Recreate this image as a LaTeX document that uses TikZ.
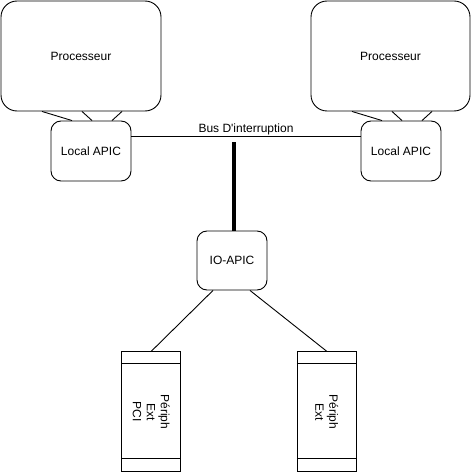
\documentclass[tikz,border=0pt]{standalone}
\usepackage{fontspec}
\setmainfont{Liberation Sans}
\begin{document}
\begin{tikzpicture}[x=1pt,y=-1pt,
  every node/.style={font=\fontsize{12}{14}\selectfont},
  proc/.style={draw,line width=0.9pt,rounded corners=16pt,minimum width=160pt,minimum height=110pt,inner sep=0pt},
  apic/.style={draw,line width=0.9pt,rounded corners=10pt,minimum width=80pt,minimum height=60pt,inner sep=0pt},
  ioapic/.style={draw,line width=0.9pt,rounded corners=10pt,minimum width=70pt,minimum height=59pt,inner sep=0pt},
  periph/.style={draw,line width=0.9pt,minimum width=59pt,minimum height=120pt,inner sep=0pt,align=center},
  wire/.style={line width=0.9pt},
  thickwire/.style={line width=4pt}]
\useasboundingbox (0,0) rectangle (473,476);
\node[proc] (p1) at (81,56) {Processeur};
\node[proc,minimum width=159pt] (p2) at (390.5,56) {Processeur};
\node[apic] (la1) at (91,151) {Local APIC};
\node[apic] (la2) at (401,151) {Local APIC};
\node[ioapic] (io) at (232,260.5) {IO-APIC};
\node[periph] (pe1) at (151.3,411.7) {};
\node[periph] (pe2) at (326.7,411.7) {};
\node[rotate=-90,align=center,inner sep=0pt] (t1) at (pe1.center) {Périph\\Ext\\PCI};
\node[rotate=-90,align=center,inner sep=0pt] (t2) at (pe2.center) {Périph\\Ext};
% inner bars of peripherals
\draw[wire] ([yshift=-12.5pt]pe1.north west) -- ([yshift=-12.5pt]pe1.north east);
\draw[wire] ([yshift=13.5pt]pe1.south west) -- ([yshift=13.5pt]pe1.south east);
\draw[wire] ([yshift=-12.5pt]pe2.north west) -- ([yshift=-12.5pt]pe2.north east);
\draw[wire] ([yshift=13.5pt]pe2.south west) -- ([yshift=13.5pt]pe2.south east);
% processor to local APIC links
\draw[wire] ([xshift=-39pt]p1.south) -- ([xshift=-19pt]la1.north);
\draw[wire] ([xshift=1pt]p1.south) -- ([xshift=1pt]la1.north);
\draw[wire] ([xshift=41pt]p1.south) -- ([xshift=21pt]la1.north);
\draw[wire] ([xshift=-38.5pt]p2.south) -- ([xshift=-19pt]la2.north);
\draw[wire] ([xshift=1.5pt]p2.south) -- ([xshift=1pt]la2.north);
\draw[wire] ([xshift=41.5pt]p2.south) -- ([xshift=21pt]la2.north);
% interrupt bus
\draw[wire] ([yshift=15pt]la1.east) -- node[above,inner sep=0.5pt] (bus) {Bus D\textquotesingle interruption} ([yshift=15pt]la2.west);
\coordinate (bt) at (234,142);
\draw[thickwire] (bt) -- (bt |- io.north);
% IO-APIC to peripherals
\draw[wire] ([xshift=-19pt]io.south) -- (pe1.north);
\draw[wire] ([xshift=18pt]io.south) -- (pe2.north);
\end{tikzpicture}
\end{document}
